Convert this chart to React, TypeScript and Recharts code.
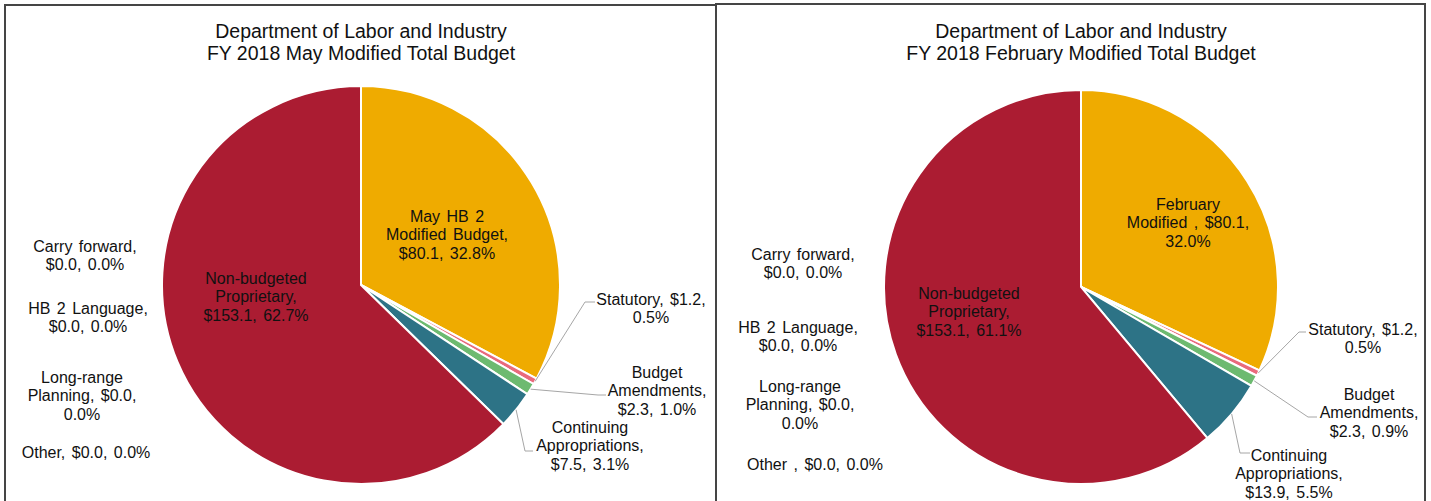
import { PieChart, Pie, Cell } from 'recharts'

// budget categories, in slice order clockwise from 12 o'clock
const MAY_CATEGORIES = [
  'May HB 2 Modified Budget', 'Statutory', 'Budget Amendments', 'Continuing Appropriations',
  'Other', 'Long-range Planning', 'HB 2 Language', 'Carry forward', 'Non-budgeted Proprietary',
]
const MAY_VALUES = [80.1, 1.2, 2.34, 7.5, 0, 0, 0, 0, 153.1]

const FEB_CATEGORIES = [
  'February Modified ', 'Statutory', 'Budget Amendments', 'Continuing Appropriations',
  'Other ', 'Long-range Planning', 'HB 2 Language', 'Carry forward', 'Non-budgeted Proprietary',
]
const FEB_VALUES = [80.1, 1.2, 2.34, 13.9, 0, 0, 0, 0, 153.1]

const TITLE_LINE_1 = 'Department of Labor and Industry'
const MAY_TITLE = 'FY 2018 May Modified Total Budget'
const FEB_TITLE = 'FY 2018 February Modified Total Budget'

const COLORS = ['#efab00', '#e96a7c', '#6dba70', '#2d7386', '#2d7386', '#2d7386', '#2d7386', '#2d7386', '#ab1c32']
const FONT = '"Liberation Sans", Arial, sans-serif'
const LINE_H = 18.8

type LabelPos = { x: number; y: number; lines: number[]; elbow?: [number, number]; end?: [number, number] }

// label placement (chart coordinates), words per line
const MAY_LAYOUT: LabelPos[] = [
  { x: 447, y: 216, lines: [3, 2, 2] },
  { x: 651, y: 299, lines: [2, 1], elbow: [585, 302], end: [595, 302] },
  { x: 657, y: 372, lines: [1, 1, 2], elbow: [598, 395], end: [606, 395] },
  { x: 590, y: 427, lines: [1, 1, 2], elbow: [525, 451], end: [533, 451] },
  { x: 86, y: 452, lines: [3] },
  { x: 82, y: 377, lines: [1, 2, 1] },
  { x: 88, y: 308, lines: [3, 2] },
  { x: 85, y: 246, lines: [2, 2] },
  { x: 256, y: 278, lines: [1, 1, 2] },
]

const FEB_LAYOUT: LabelPos[] = [
  { x: 472, y: 204, lines: [1, 3, 1] },
  { x: 647, y: 329, lines: [2, 1], elbow: [583, 332], end: [590, 332] },
  { x: 653, y: 394, lines: [1, 1, 2], elbow: [592, 417], end: [601, 417] },
  { x: 573, y: 455, lines: [1, 1, 2], elbow: [524, 453], end: [534, 453] },
  { x: 99, y: 464, lines: [4] },
  { x: 84, y: 386, lines: [1, 2, 1] },
  { x: 82, y: 327, lines: [3, 2] },
  { x: 87, y: 254, lines: [2, 2] },
  { x: 253, y: 293, lines: [1, 1, 2] },
]

const makeLabel = (layout: LabelPos[]) => (props: any) => {
  const { cx, cy, midAngle, outerRadius, index, name, value, percent } = props
  const pos = layout[index]
  const words = `${name}, $${Number(value).toFixed(1)}, ${(percent * 100).toFixed(1)}%`.split(' ')
  const lines: string[] = []
  let k = 0
  for (const n of pos.lines) {
    lines.push(words.slice(k, k + n).join(' '))
    k += n
  }
  let leader = null
  if (pos.elbow && pos.end) {
    const rad = (-midAngle * Math.PI) / 180
    const sx = cx + outerRadius * Math.cos(rad)
    const sy = cy + outerRadius * Math.sin(rad)
    leader = (
      <polyline
        points={`${sx},${sy} ${pos.elbow[0]},${pos.elbow[1]} ${pos.end[0]},${pos.end[1]}`}
        fill="none" stroke="#a6a6a6" strokeWidth={1}
      />
    )
  }
  return (
    <g key={`label-${index}`}>
      {leader}
      <text x={pos.x} y={pos.y} textAnchor="middle" fontSize={16} fill="#111" fontFamily={FONT} style={{ wordSpacing: 2 }}>
        {lines.map((t, i) => (
          <tspan key={i} x={pos.x} y={pos.y + i * LINE_H} dominantBaseline="central">{t}</tspan>
        ))}
      </text>
    </g>
  )
}

function BudgetPie({ categories, values, layout, title, left, width, cx, cy, r }: any) {
  const data = categories.map((name: string, i: number) => ({ name, value: values[i] }))
  return (
    <div style={{ position: 'absolute', left, top: 0, width, height: 501 }}>
      <div style={{
        position: 'absolute', left: cx - 250, top: 20, width: 500, textAlign: 'center',
        fontFamily: FONT, fontSize: 19.5, lineHeight: '22px', color: '#111',
      }}>
        {TITLE_LINE_1}<br />{title}
      </div>
      <PieChart width={width} height={501} margin={{ top: 0, right: 0, bottom: 0, left: 0 }}>
        <Pie
          data={data} dataKey="value" nameKey="name"
          cx={cx} cy={cy} innerRadius={0} outerRadius={r}
          startAngle={90} endAngle={-270}
          stroke="#fff" strokeWidth={2}
          label={makeLabel(layout)} labelLine={false}
          isAnimationActive={false}
        >
          {data.map((_: any, i: number) => (
            <Cell key={i} fill={COLORS[i]} />
          ))}
        </Pie>
      </PieChart>
    </div>
  )
}

const line = (left: number, top: number, w: number, h: number) => (
  <div style={{ position: 'absolute', left, top, width: w, height: h, background: '#454545' }} />
)

export default function App() {
  return (
    <div style={{ position: 'absolute', left: 0, top: 0, width: 1431, height: 501, overflow: 'hidden', background: '#fff' }}>
      <BudgetPie categories={MAY_CATEGORIES} values={MAY_VALUES} layout={MAY_LAYOUT} title={MAY_TITLE}
        left={0} width={716} cx={361} cy={285} r={199} />
      <BudgetPie categories={FEB_CATEGORIES} values={FEB_VALUES} layout={FEB_LAYOUT} title={FEB_TITLE}
        left={716} width={715} cx={365} cy={287} r={197} />
      {line(4, 4, 712, 2)}
      {line(715, 3, 711, 2)}
      {line(4, 4, 2, 497)}
      {line(715, 3, 2, 498)}
      {line(1424, 3, 2, 498)}
    </div>
  )
}
